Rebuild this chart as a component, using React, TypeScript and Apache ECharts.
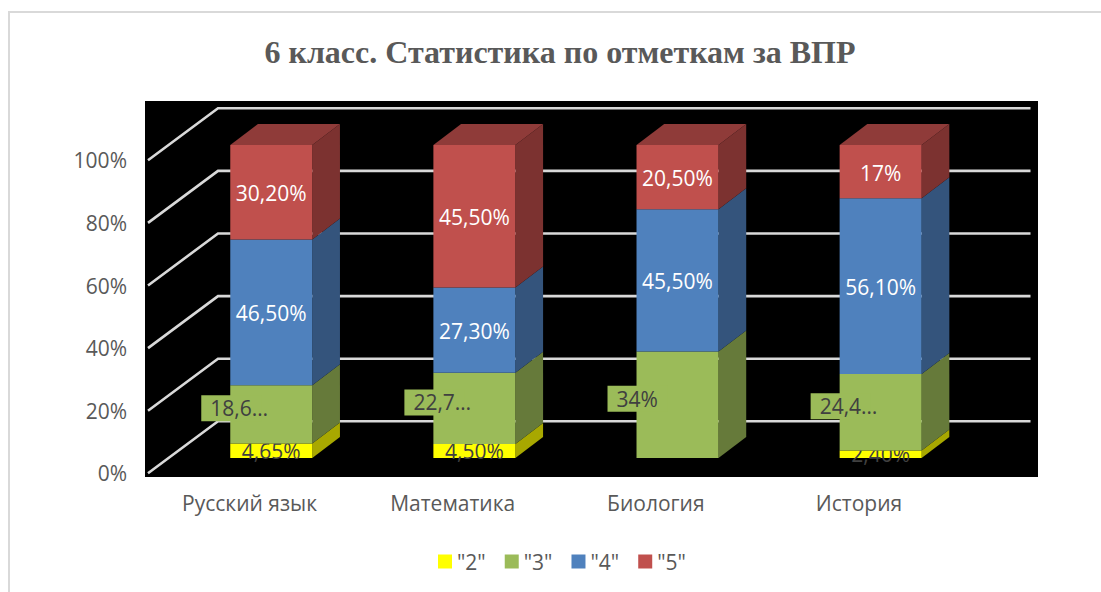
import React, { useEffect, useRef } from "react";
import * as echarts from "echarts";

const title = "6 класс. Статистика по отметкам за ВПР";
const categories = ["Русский язык", "Математика", "Биология", "История"];
const gridTicks = [0, 20, 40, 60, 80, 100];

const seriesNames = ['"2"', '"3"', '"4"', '"5"'];
const values2 = [4.65, 4.5, 0, 2.4];
const values3 = [18.6, 22.7, 34, 24.4];
const values4 = [46.5, 27.3, 45.5, 56.1];
const values5 = [30.2, 45.5, 20.5, 17];

const labels2 = ["4,65%", "4,50%", "", "2,40%"];
const labels3 = ["18,6…", "22,7…", "34%", "24,4…"];
const labels4 = ["46,50%", "27,30%", "45,50%", "56,10%"];
const labels5 = ["30,20%", "45,50%", "20,50%", "17%"];

const frontColors = ["#FFFF00", "#9BBB59", "#4F81BD", "#C0504D"];
const sideColors = ["#A8A800", "#667A3A", "#34547C", "#7C3230"];
const topColor = "#8F3B39";

const FONT = '"Open Sans", "Noto Sans", sans-serif';
const GREY = "#595959";
const DARK = "#404040";

const allValues = [values2, values3, values4, values5];
const allLabels = [labels2, labels3, labels4, labels5];

function stacked(seriesIndex: number) {
  return categories.map((_, c) => {
    const total = allValues.reduce((s, a) => s + a[c], 0);
    let base = 0;
    for (let i = 0; i < seriesIndex; i++) base += allValues[i][c];
    const v = allValues[seriesIndex][c];
    return [c, (base / total) * 100, ((base + v) / total) * 100];
  });
}

const WALL_DX = 70;
const WALL_DY = -52;
const BAR_OFF_X = 21.7;
const BAR_OFF_Y = -15.3;
const BAR_W = 82;
const BAR_DX = 27.7;
const BAR_DY = -21;

const option: any = {
  animation: false,
  backgroundColor: "#fff",
  title: {
    text: title,
    left: 555,
    top: 31,
    textAlign: "center",
    textStyle: {
      fontFamily: '"Liberation Serif", serif',
      fontWeight: "bold",
      fontSize: 32,
      color: GREY,
    },
  },
  graphic: [
    {
      type: "rect",
      z: -10,
      shape: { x: 9, y: 12, width: 1110, height: 600 },
      style: { fill: "#fff", stroke: "#D9D9D9", lineWidth: 2 },
    },
    {
      type: "rect",
      z: -5,
      shape: { x: 145, y: 101, width: 893, height: 376 },
      style: { fill: "#000" },
    },
  ],
  grid: { left: 148, top: 160.3, width: 812.5, height: 313 },
  xAxis: {
    type: "category",
    data: categories,
    axisLine: { show: false },
    axisTick: { show: false },
    splitLine: { show: false },
    axisLabel: { color: GREY, fontFamily: FONT, fontSize: 21, margin: 19 },
  },
  yAxis: {
    type: "value",
    min: 0,
    max: 100,
    interval: 20,
    axisLine: { show: false },
    axisTick: { show: false },
    splitLine: { show: false },
    axisLabel: {
      color: GREY,
      fontFamily: FONT,
      fontSize: 21,
      margin: 21,
      formatter: "{value}%",
    },
  },
  legend: {
    data: seriesNames.map((name, i) => ({
      name,
      icon: "rect",
      itemStyle: { color: frontColors[i] },
    })),
    left: 433,
    top: 546,
    itemWidth: 14,
    itemHeight: 14,
    itemGap: 19,
    textStyle: { color: GREY, fontFamily: FONT, fontSize: 21 },
  },
  series: [
    {
      type: "custom",
      silent: true,
      z: 2,
      data: gridTicks.map((v) => [0, v]),
      encode: { x: 0, y: 1 },
      renderItem: (params: any, api: any) => {
        const y = api.coord([0, api.value(1)])[1];
        const x = params.coordSys.x;
        const w = params.coordSys.width;
        return {
          type: "polyline",
          shape: {
            points: [
              [x, y],
              [x + WALL_DX, y + WALL_DY],
              [x + WALL_DX + w, y + WALL_DY],
            ],
          },
          style: { fill: "none", stroke: "#D9D9D9", lineWidth: 2.6 },
        };
      },
    },
    ...seriesNames.map((name, si) => ({
      type: "custom",
      name,
      silent: true,
      z: 3 + si,
      itemStyle: { color: frontColors[si] },
      data: stacked(si),
      encode: { x: 0, y: [1, 2] },
      renderItem: (_params: any, api: any) => {
        const c = api.value(0);
        const b = api.coord([c, api.value(1)]);
        const t = api.coord([c, api.value(2)]);
        const left = b[0] + BAR_OFF_X - BAR_W / 2;
        const right = left + BAR_W;
        const yb = b[1] + BAR_OFF_Y;
        const yt = t[1] + BAR_OFF_Y;
        const children: any[] = [];
        const label = allLabels[si][c];
        if (yb - yt > 0.01) {
          children.push({
            type: "polygon",
            shape: {
              points: [
                [right, yb],
                [right + BAR_DX, yb + BAR_DY],
                [right + BAR_DX, yt + BAR_DY],
                [right, yt],
              ],
            },
            style: { fill: sideColors[si] },
          });
          if (si === 3) {
            children.push({
              type: "polygon",
              shape: {
                points: [
                  [left, yt],
                  [left + BAR_DX, yt + BAR_DY],
                  [right + BAR_DX, yt + BAR_DY],
                  [right, yt],
                ],
              },
              style: { fill: topColor },
            });
          }
          children.push({
            type: "rect",
            shape: { x: left, y: yt, width: BAR_W, height: yb - yt },
            style: { fill: frontColors[si] },
          });
        }
        if (label) {
          const cy = (yb + yt) / 2;
          if (si === 1) {
            const boxY = cy - 6;
            children.push({
              type: "rect",
              shape: { x: left - 29, y: boxY - 13, width: 60, height: 26 },
              style: { fill: frontColors[si] },
            });
            children.push({
              type: "text",
              style: {
                text: label,
                x: left - 20,
                y: boxY,
                align: "left",
                verticalAlign: "middle",
                fill: DARK,
                font: `21px ${FONT}`,
              },
            });
          } else {
            children.push({
              type: "text",
              style: {
                text: label,
                x: left + BAR_W / 2,
                y: si === 0 ? cy : cy + 1,
                align: "center",
                verticalAlign: "middle",
                fill: si === 0 ? DARK : "#FFFFFF",
                font: `21px ${FONT}`,
              },
            });
          }
        }
        return { type: "group", children };
      },
    })),
  ],
};

export default function App() {
  const ref = useRef<HTMLDivElement>(null);
  useEffect(() => {
    const chart = echarts.init(ref.current!, undefined, { renderer: "svg" });
    chart.setOption(option);
    return () => chart.dispose();
  }, []);
  return (
    <div
      ref={ref}
      style={{ position: "absolute", left: 0, top: 0, width: 1101, height: 592, overflow: "hidden" }}
    />
  );
}
